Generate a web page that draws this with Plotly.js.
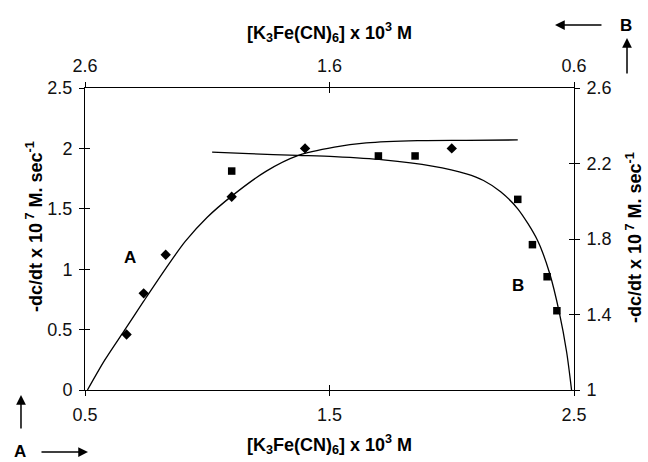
<!DOCTYPE html>
<html>
<head>
<meta charset="utf-8">
<script src="https://cdn.plot.ly/plotly-3.0.1.min.js"></script>
<style>html,body{margin:0;padding:0;background:#fff;}#chart{width:648px;height:462px;}</style>
</head>
<body>
<div id="chart"></div>
<script>
// Series A (diamonds): bottom x axis / left y axis
const seriesA_x = [0.67, 0.74, 0.83, 1.10, 1.40, 2.00];
const seriesA_y = [0.46, 0.80, 1.12, 1.60, 2.00, 2.00];
// Series B (squares): top x axis (reversed) / right y axis
const seriesB_x = [2.00, 1.40, 1.25, 0.83, 0.77, 0.71, 0.67];
const seriesB_y = [2.16, 2.24, 2.24, 2.01, 1.77, 1.60, 1.42];
// Fitted curve A
const curveA_x = [0.51, 0.58, 0.66, 0.74, 0.83, 0.91, 1.00, 1.10, 1.24, 1.37, 1.52, 1.65, 1.86, 2.06, 2.27];
const curveA_y = [0.00, 0.245, 0.49, 0.735, 1.005, 1.23, 1.43, 1.605, 1.81, 1.94, 2.01, 2.045, 2.064, 2.067, 2.07];
// Fitted curve B
const curveB_x = [2.08, 1.93, 1.73, 1.58, 1.38, 1.18, 1.04, 0.97, 0.90, 0.83, 0.75, 0.70, 0.66, 0.63, 0.61];
const curveB_y = [2.26, 2.252, 2.243, 2.236, 2.219, 2.186, 2.145, 2.11, 2.05, 1.96, 1.795, 1.62, 1.41, 1.20, 1.0];
// Tick labels
const bottomTicks = [0.5, 1.5, 2.5];
const topTicks = [2.6, 1.6, 0.6];
const leftTicks = [0, 0.5, 1, 1.5, 2, 2.5];
const rightTicks = [1, 1.4, 1.8, 2.2, 2.6];

const FONT = 'Liberation Sans, Arial, sans-serif';
const lineStyle = {color: '#000', width: 1.3, shape: 'spline', smoothing: 0.8};

const traces = [
  {x: curveA_x, y: curveA_y, mode: 'lines', line: lineStyle, xaxis: 'x', yaxis: 'y', hoverinfo: 'skip'},
  {x: curveB_x, y: curveB_y, mode: 'lines', line: lineStyle, xaxis: 'x2', yaxis: 'y2', hoverinfo: 'skip'},
  {x: seriesA_x, y: seriesA_y, mode: 'markers', marker: {symbol: 'diamond', size: 8, color: '#000'}, xaxis: 'x', yaxis: 'y'},
  {x: seriesB_x, y: seriesB_y, mode: 'markers', marker: {symbol: 'square', size: 7.5, color: '#000'}, xaxis: 'x2', yaxis: 'y2'},
  // empty traces to bind the inside-tick overlay axes
  {x: [], y: [], xaxis: 'x3', yaxis: 'y3', showlegend: false},
  {x: [], y: [], xaxis: 'x4', yaxis: 'y4', showlegend: false}
];

const baseAxis = {
  showgrid: false, zeroline: false, showline: true, linecolor: '#000', linewidth: 1,
  ticks: 'outside', ticklen: 5, tickcolor: '#000', tickwidth: 1, ticklabelstandoff: 3,
  tickfont: {family: FONT, size: 18, color: '#111'}, automargin: false, fixedrange: true
};
const insideAxis = Object.assign({}, baseAxis, {ticks: 'inside', showticklabels: false, showline: false});
const titleFont = {family: FONT, size: 18, color: '#000', weight: 'bold'};
const markFont = {family: FONT, size: 17, color: '#000', weight: 'bold'};
const xTitle = '[K<sub>3</sub>Fe(CN)<sub>6</sub>] x 10<sup>3</sup> M';
const yTitle = '-dc/dt x 10<sup> 7</sup> M. sec<sup>-1</sup>';

function label(text, x, y, extra) {
  return Object.assign({text: text, xref: 'paper', yref: 'paper', x: x, y: y, showarrow: false,
    xanchor: 'center', yanchor: 'middle', font: titleFont}, extra || {});
}
function arrow(x, y, ax, ay) {
  return {text: '', xref: 'paper', yref: 'paper', x: x, y: y, showarrow: true, ax: ax, ay: ay,
    arrowhead: 2, arrowsize: 1.3, arrowwidth: 1.5, arrowcolor: '#000'};
}

const layout = {
  width: 648, height: 462,
  margin: {l: 85, r: 74, t: 88, b: 72},
  paper_bgcolor: '#fff', plot_bgcolor: '#fff',
  showlegend: false,
  xaxis: Object.assign({}, baseAxis, {range: [0.5, 2.5], tickmode: 'array', tickvals: bottomTicks,
    ticktext: bottomTicks.map(String)}),
  yaxis: Object.assign({}, baseAxis, {range: [0, 2.5], tickmode: 'array', tickvals: leftTicks,
    ticktext: leftTicks.map(String)}),
  xaxis2: Object.assign({}, baseAxis, {overlaying: 'x', side: 'top', anchor: 'y', range: [2.6, 0.6],
    tickmode: 'array', tickvals: topTicks, ticktext: topTicks.map(String)}),
  yaxis2: Object.assign({}, baseAxis, {overlaying: 'y', side: 'right', anchor: 'x', range: [1, 2.6],
    tickmode: 'array', tickvals: rightTicks, ticktext: rightTicks.map(String)}),
  xaxis3: Object.assign({}, insideAxis, {overlaying: 'x', side: 'bottom', anchor: 'y3', range: [0.5, 2.5], tickvals: bottomTicks, tickmode: 'array'}),
  yaxis3: Object.assign({}, insideAxis, {overlaying: 'y', side: 'left', anchor: 'x3', range: [0, 2.5], tickvals: leftTicks, tickmode: 'array'}),
  xaxis4: Object.assign({}, insideAxis, {overlaying: 'x', side: 'top', anchor: 'y4', range: [2.6, 0.6], tickvals: topTicks, tickmode: 'array'}),
  yaxis4: Object.assign({}, insideAxis, {overlaying: 'y', side: 'right', anchor: 'x4', range: [1, 2.6], tickvals: rightTicks, tickmode: 'array'}),
  annotations: [
    // axis titles
    label(xTitle, 0.5, -0.1821),
    label(xTitle, 0.5, 1.1854),
    label(yTitle, -0.1043, 0.543, {textangle: -90}),
    label(yTitle, 1.1227, 0.503, {textangle: -90}),
    // curve labels
    {text: 'A', xref: 'x', yref: 'y', x: 0.684, y: 1.10, showarrow: false, font: markFont},
    {text: 'B', xref: 'x', yref: 'y', x: 2.272, y: 0.863, showarrow: false, font: markFont},
    // bottom-left direction marks
    label('A', -0.1329, -0.2020, {font: markFont}),
    arrow(0.0061, -0.2053, -48, 0),
    arrow(-0.1309, -0.0166, 0, 35),
    // top-right direction marks
    label('B', 1.1063, 1.2086, {font: markFont}),
    arrow(0.9611, 1.2086, 48, 0),
    arrow(1.1084, 1.1656, 0, 37)
  ]
};

Plotly.newPlot('chart', traces, layout, {staticPlot: true, displayModeBar: false});
</script>
</body>
</html>
